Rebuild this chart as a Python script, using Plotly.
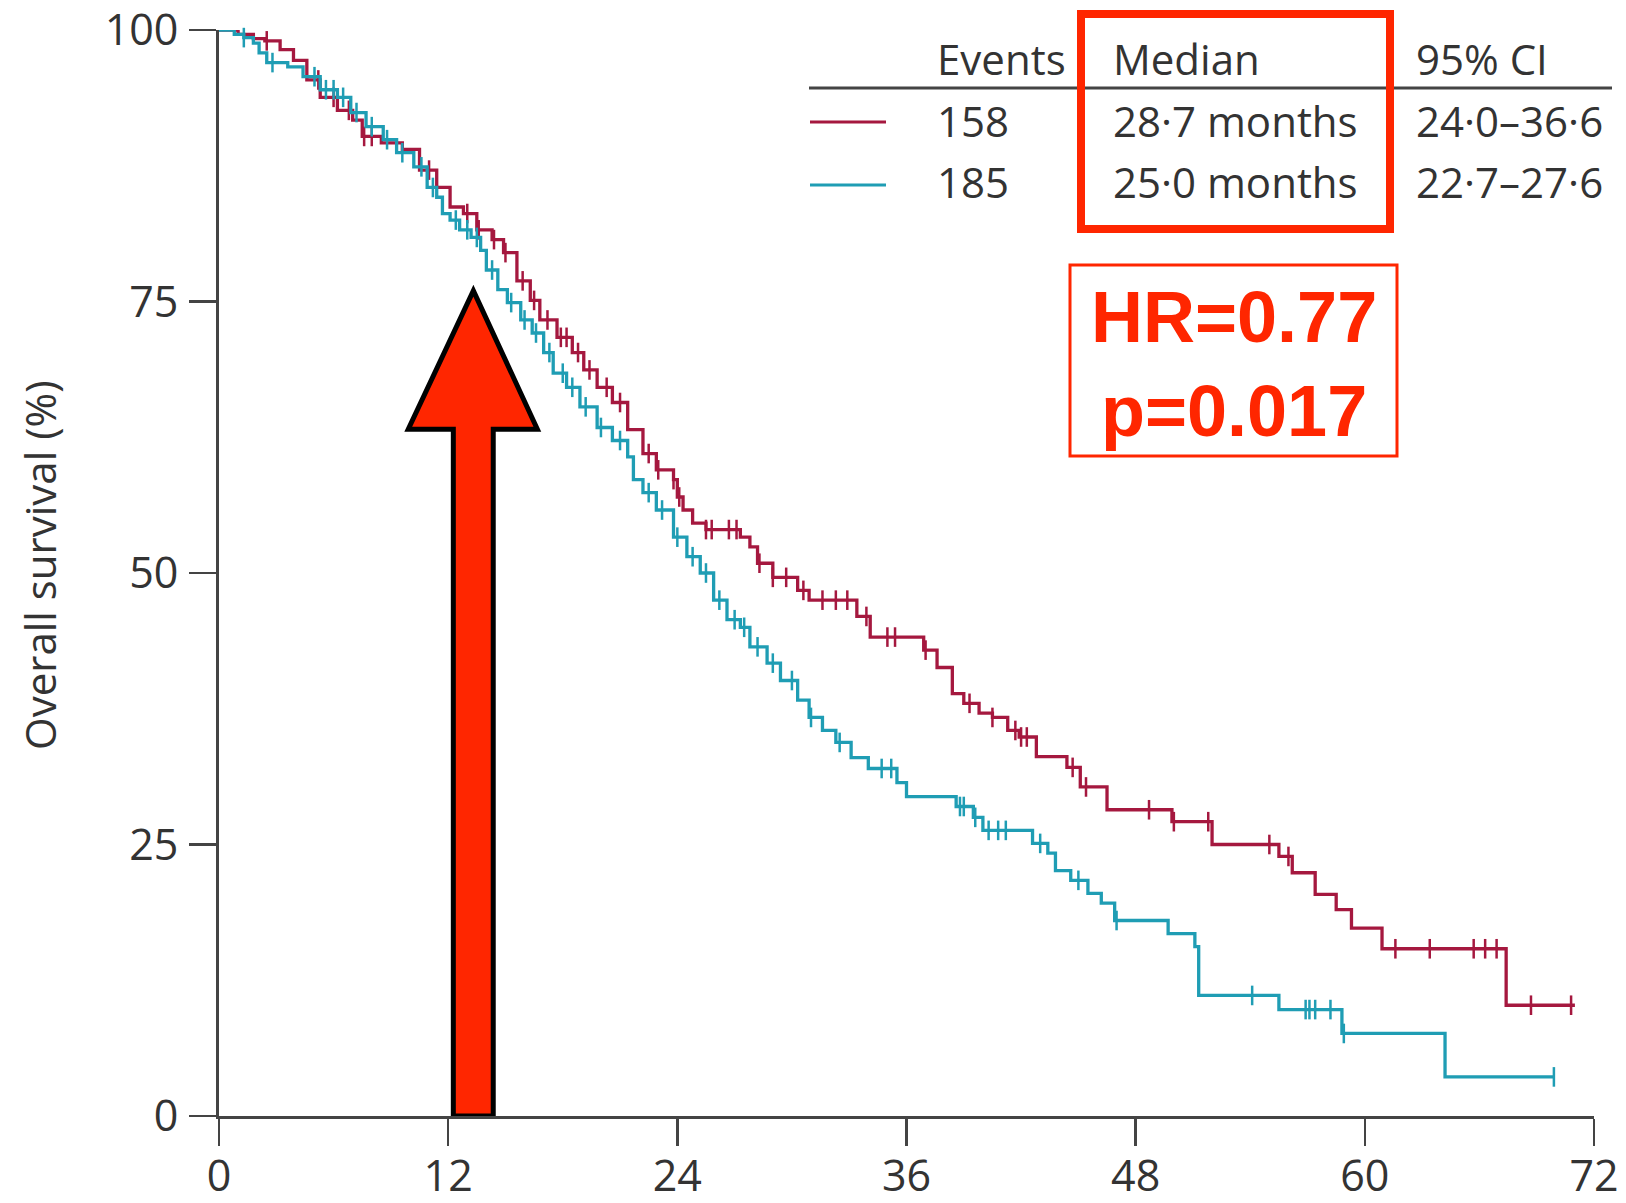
import numpy as np
import plotly.graph_objects as go

# ---------------- data ----------------
red_t = [0, 1.0, 1.8, 2.4, 3.2, 3.9, 4.6, 5.3, 6.2, 7.0, 7.5, 8.5, 9.6, 10.5, 11.4, 12.1, 12.8,
         13.5, 14.3, 14.9, 15.6, 16.3, 16.8, 17.7, 18.5, 19.1, 19.8, 20.6, 21.4, 22.2, 22.9, 23.8,
         24.0, 24.3, 24.8, 25.5, 27.3, 27.8, 28.2, 29.0, 30.3, 30.9, 33.4, 34.1, 36.9, 37.6, 38.4,
         39.0, 39.8, 40.5, 41.3, 41.9, 42.8, 44.4, 45.1, 46.5, 49.9, 52.0, 55.5, 56.2, 57.4, 58.5,
         59.3, 60.9, 67.4]
red_s = [100, 99.6, 99.2, 99.0, 98.2, 97.2, 95.4, 93.8, 92.6, 91.7, 90.2, 89.6, 89.0, 87.1, 85.5,
         83.7, 83.1, 81.6, 80.7, 79.5, 76.9, 75.1, 73.3, 71.7, 70.3, 68.7, 67.1, 65.7, 63.2, 61.0,
         59.5, 58.6, 57.0, 55.8, 54.6, 54.0, 53.3, 52.4, 50.9, 49.6, 48.4, 47.5, 46.0, 44.1, 42.9,
         41.3, 38.9, 38.0, 37.1, 36.7, 35.5, 34.9, 33.1, 32.1, 30.3, 28.2, 27.1, 25.0, 23.9, 22.4,
         20.4, 19.0, 17.3, 15.4, 10.2]
red_end = 71.0
red_censor = [2.5, 5.2, 6.0, 6.8, 7.6, 8.0, 11.0, 13.0, 13.6, 14.4, 15.0, 15.9, 16.5, 17.2, 17.9,
              18.2, 18.8, 19.4, 20.3, 21.0, 22.5, 23.0, 23.8, 24.1, 25.5, 25.8, 26.7, 27.1, 28.3,
              29.0, 29.7, 30.6, 31.6, 32.3, 32.9, 33.9, 35.0, 35.4, 37.0, 39.3, 40.5, 41.7, 42.0,
              42.3, 44.7, 45.4, 48.7, 50.0, 51.8, 55.0, 56.0, 61.6, 63.4, 65.7, 66.3, 66.9, 68.7,
              70.8]

blue_t = [0, 0.8, 1.3, 1.8, 2.1, 2.5, 3.6, 4.4, 5.3, 6.2, 6.9, 7.7, 8.6, 9.3, 10.2, 10.9, 11.4,
          11.7, 12.1, 12.6, 13.2, 13.7, 14.0, 14.6, 15.1, 15.8, 16.4, 17.0, 17.5, 18.2, 18.9, 19.8,
          20.6, 21.4, 21.7, 22.2, 22.9, 23.8, 24.5, 25.2, 25.9, 26.6, 27.3, 27.8, 28.7, 29.4, 30.3,
          30.9, 31.6, 32.3, 33.1, 34.0, 35.5, 36.0, 38.6, 39.5, 40.0, 42.6, 43.4, 43.8, 44.6, 45.5,
          46.2, 46.9, 49.7, 51.1, 51.3, 55.5, 58.8, 64.2]
blue_s = [100, 99.6, 99.3, 98.8, 97.9, 97.0, 96.6, 95.7, 94.5, 93.8, 92.4, 91.1, 89.9, 88.7, 87.4,
          85.5, 84.6, 83.1, 82.5, 81.6, 80.9, 79.7, 77.9, 76.1, 74.9, 73.3, 72.1, 70.3, 68.4, 67.1,
          65.3, 63.4, 62.2, 60.7, 58.6, 57.4, 55.8, 53.3, 51.5, 50.0, 47.5, 45.7, 45.0, 43.2, 41.7,
          40.1, 38.3, 36.7, 35.5, 34.4, 33.0, 32.0, 30.7, 29.4, 28.5, 27.5, 26.3, 25.1, 24.2, 22.6,
          21.7, 20.5, 19.6, 18.0, 16.8, 15.6, 11.1, 9.8, 7.6, 3.6]
blue_end = 69.9
blue_censor = [1.3, 2.8, 5.0, 5.6, 6.0, 6.5, 7.2, 8.0, 8.8, 9.6, 10.6, 11.2, 12.4, 13.0, 13.5,
               14.3, 15.3, 16.0, 16.6, 17.3, 18.0, 18.5, 19.2, 20.0, 21.0, 22.5, 23.2, 24.0, 24.8,
               25.5, 26.2, 27.0, 27.5, 28.2, 29.0, 30.0, 31.0, 32.5, 34.7, 35.2, 38.8, 39.0, 39.6,
               40.3, 40.8, 41.2, 43.0, 45.0, 47.0, 54.1, 56.9, 57.1, 57.4, 58.2, 58.9, 69.9]

x_ticks = [0, 12, 24, 36, 48, 60, 72]
y_ticks = [0, 25, 50, 75, 100]
y_title = "Overall survival (%)"

table_header = ["Events", "Median", "95% CI"]
red_row = ["158", "28·7 months", "24·0–36·6"]
blue_row = ["185", "25·0 months", "22·7–27·6"]
hr_text = "HR=0.77<br>p=0.017"

# ---------------- styling ----------------
RED = "#A5183F"
BLUE = "#1F9DB4"
ALERT = "#FF2600"
AXIS = "#444444"
TXT = "#333333"
FONT = "Open Sans"

W, H = 1626, 1203
# plot area in window pixels: x 219..1594, y 30..1116
PX0, PX1, PY0, PY1 = 219, 1594, 30, 1116
PW, PH = PX1 - PX0, PY1 - PY0
L, T = PX0, PY0
R, B = W - L - PW, H - T - PH


def px(xp):
    return (xp - PX0) / PW


def py(yp):
    return (PY1 - yp) / PH


def step_lookup(ts, ss, t):
    i = int(np.searchsorted(np.asarray(ts), t, side="right")) - 1
    return ss[max(i, 0)]


fig = go.Figure()

for ts, ss, end, cens, col in [(red_t, red_s, red_end, red_censor, RED),
                               (blue_t, blue_s, blue_end, blue_censor, BLUE)]:
    fig.add_trace(go.Scatter(x=list(ts) + [end], y=list(ss) + [ss[-1]], mode="lines",
                             line=dict(shape="hv", color=col, width=3.3),
                             cliponaxis=False, showlegend=False, hoverinfo="skip"))
    fig.add_trace(go.Scatter(x=cens, y=[step_lookup(ts, ss, c) for c in cens], mode="markers",
                             marker=dict(symbol="line-ns", size=14,
                                         line=dict(color=col, width=2.5)),
                             cliponaxis=False, showlegend=False, hoverinfo="skip"))

shapes = []
# arrow (in axis units)
arrow_path = ("M 12.27,0 L 12.27,63.24 L 9.91,63.24 L 13.32,76.0 L 16.67,63.24 "
              "L 14.36,63.24 L 14.36,0 Z")
shapes.append(dict(type="path", xref="x", yref="y", path=arrow_path,
                   fillcolor=ALERT, line=dict(color="black", width=5), layer="above"))
# table rule
shapes.append(dict(type="line", xref="paper", yref="paper", x0=px(809), x1=px(1612),
                   y0=py(88), y1=py(88), line=dict(color=AXIS, width=3)))
# legend samples
shapes.append(dict(type="line", xref="paper", yref="paper", x0=px(810), x1=px(886),
                   y0=py(122), y1=py(122), line=dict(color=RED, width=3)))
shapes.append(dict(type="line", xref="paper", yref="paper", x0=px(810), x1=px(886),
                   y0=py(185), y1=py(185), line=dict(color=BLUE, width=3)))
# thick red box around median column
shapes.append(dict(type="rect", xref="paper", yref="paper", x0=px(1081), x1=px(1390),
                   y0=py(229), y1=py(14), line=dict(color=ALERT, width=8)))
# HR box
shapes.append(dict(type="rect", xref="paper", yref="paper", x0=px(1070), x1=px(1397),
                   y0=py(456), y1=py(265), line=dict(color=ALERT, width=3)))

ann = []
cols_x = [935, 1111, 1414]
for row, yp in [(table_header, 58), (red_row, 120), (blue_row, 182)]:
    for txt, xp in zip(row, cols_x):
        ann.append(dict(text=txt, xref="paper", yref="paper", x=px(xp), y=py(yp),
                        xanchor="left", yanchor="middle", showarrow=False,
                        font=dict(family=FONT, size=42, color=TXT)))
ann.append(dict(text=hr_text, xref="paper", yref="paper", x=px(1234), y=py(364),
                xanchor="center", yanchor="middle", showarrow=False,
                font=dict(family="Liberation Sans", size=72, color=ALERT, weight="bold"),
                align="center"))
ann.append(dict(text=y_title, xref="paper", yref="paper", x=px(39), y=py(565),
                xanchor="center", yanchor="middle", textangle=-90, showarrow=False,
                font=dict(family=FONT, size=42, color=TXT)))

axis_common = dict(showline=True, linecolor=AXIS, linewidth=3, ticks="outside", ticklen=27,
                   tickwidth=2.5, tickcolor=AXIS, showgrid=False, zeroline=False,
                   tickfont=dict(family=FONT, size=43, color=TXT), fixedrange=True,
                   automargin=False, ticklabeloverflow="allow")

fig.update_layout(
    width=W, height=H, margin=dict(l=L, r=R, t=T, b=B, autoexpand=False),
    paper_bgcolor="white", plot_bgcolor="white",
    xaxis=dict(range=[0, 72], tickvals=x_ticks, ticktext=[str(v) for v in x_ticks],
               ticklabelstandoff=-7, **axis_common),
    yaxis=dict(range=[0, 100], tickvals=y_ticks, ticktext=[str(v) for v in y_ticks],
               ticklabelstandoff=2, **axis_common),
    shapes=shapes, annotations=ann, showlegend=False,
)

# remove the default 8px page margin so the 1626x1203 figure fills the window exactly
fig.write_html("out.html",
               config={"displayModeBar": False, "staticPlot": True},
               post_script="document.body.style.margin='0';document.body.style.overflow='hidden';")
